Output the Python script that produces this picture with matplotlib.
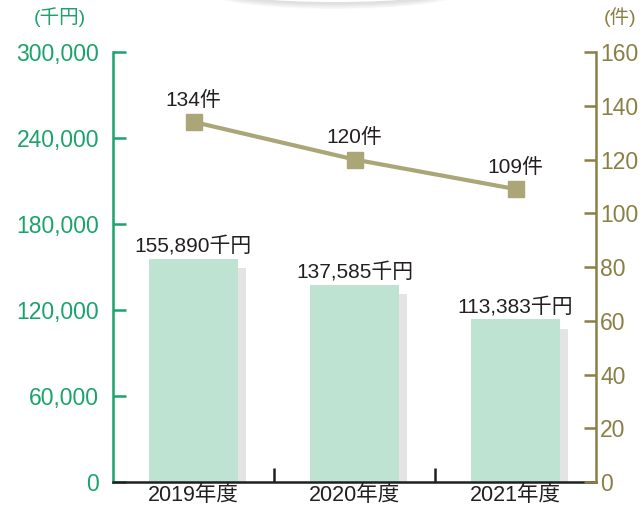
import matplotlib.pyplot as plt
from matplotlib.patches import Ellipse
import numpy as np

plt.rcParams['font.family'] = ['Liberation Sans', 'Noto Sans CJK JP', 'DejaVu Sans']

years = ['2019年度', '2020年度', '2021年度']
amount = [155890, 137585, 113383]      # 千円
cases = [134, 120, 109]                # 件
left_ticks = [0, 60000, 120000, 180000, 240000, 300000]
right_ticks = [0, 20, 40, 60, 80, 100, 120, 140, 160]

green = '#1aa36b'
olive = '#8a7f45'
line_c = '#aba677'
bar_c = '#bfe3d3'
shadow_c = '#e4e4e4'
txt = '#231f20'

fig = plt.figure(figsize=(6.43, 5.09), dpi=100)

# soft grey disc edge at the top
for i in range(6):
    fig.add_artist(Ellipse((335/643, 1 + 8/509), (230 + i*5)/643, (24 + i*2)/509,
                           transform=fig.transFigure, facecolor='#a0a0a0',
                           edgecolor='none', alpha=0.06))
fig.add_artist(Ellipse((335/643, 1 + 10/509), 230/643, 24/509,
                       transform=fig.transFigure, facecolor='white', edgecolor='none'))

ax = fig.add_axes([113/643, 27/509, 483/643, 430/509])
ax2 = ax.twinx()

x = np.arange(len(years))
w = 0.55
# grey shadow behind each bar
ax.bar(x + 0.05, np.array(amount) - 6300, width=w, color=shadow_c, zorder=1)
ax.bar(x, amount, width=w, color=bar_c, zorder=2)
for xi, v in zip(x, amount):
    ax.text(xi, v + 2000, f'{v:,}千円', ha='center', va='bottom',
            fontsize=15, color=txt, zorder=5)

ax.set_xlim(-0.5, 2.5)
ax.set_ylim(0, 300000)
ax.set_yticks(left_ticks)
ax.set_yticklabels([f'{t:,}' for t in left_ticks])
ax.set_xticks(x)
ax.set_xticklabels(years)
ax.set_xticks([0.5, 1.5], minor=True)

ax2.plot(x, cases, color=line_c, lw=3, marker='s', ms=12, mfc=line_c, mec=line_c, zorder=4)
for xi, v in zip(x, cases):
    ax2.text(xi, v + 4.5, f'{v}件', ha='center', va='bottom', fontsize=15, color=txt)
ax2.set_ylim(0, 160)
ax2.set_yticks(right_ticks)

for a in (ax, ax2):
    a.spines['top'].set_visible(False)
    a.patch.set_visible(False)
ax.spines['right'].set_visible(False)
ax.spines['left'].set_color(green)
ax.spines['left'].set_linewidth(1.8)
ax.spines['bottom'].set_color(txt)
ax.spines['bottom'].set_linewidth(1.8)
ax2.spines['left'].set_visible(False)
ax2.spines['bottom'].set_visible(False)
ax2.spines['right'].set_color(olive)
ax2.spines['right'].set_linewidth(1.8)

ax.tick_params(axis='y', direction='in', length=9, width=1.8, color=green,
               labelcolor=green, labelsize=16.5, pad=10)
ax.tick_params(axis='x', which='major', length=0, labelsize=15.5, labelcolor=txt, pad=2)
ax.tick_params(axis='x', which='minor', direction='in', length=10, width=1.8, color=txt)
ax2.tick_params(axis='y', direction='in', length=9, width=1.8, color=olive,
                labelcolor=olive, labelsize=16.5, pad=3)

fig.text(60/643, 1 - 17/509, '(千円)', ha='center', va='center', fontsize=14, color=green)
fig.text(620/643, 1 - 17/509, '(件)', ha='center', va='center', fontsize=14, color=olive)

fig.savefig('out.png', dpi=100)
